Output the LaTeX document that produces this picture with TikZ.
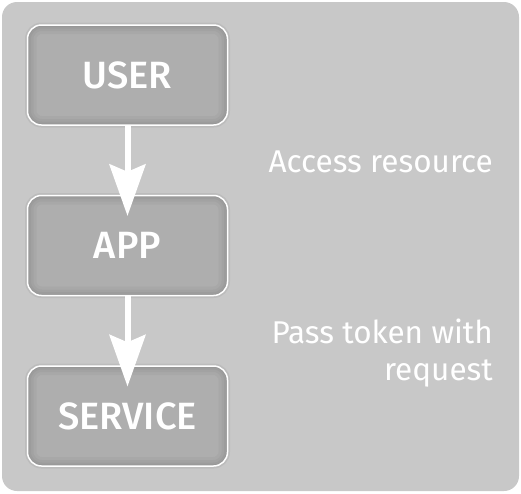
\documentclass[tikz,border=0pt]{standalone}
\usepackage{fontspec}
\setmainfont{Fira Sans}[BoldFont=* Medium]
\usetikzlibrary{arrows.meta}
\definecolor{bg}{HTML}{C8C8C8}
\definecolor{boxfill}{HTML}{AEAEAE}
\tikzset{
  box/.style={draw=white, line width=1.5pt, fill=boxfill, rounded corners=14pt,
    minimum width=200pt, minimum height=100pt, inner sep=0pt, text=white,
    font=\bfseries\fontsize{38}{42}\selectfont,
    preaction={draw=black, draw opacity=0.06, line width=5pt},
    path picture={
      \foreach \w/\o in {18pt/0.03,12pt/0.03,7pt/0.035,3pt/0.04}{
        \draw[line width=\w, black, draw opacity=\o, rounded corners=14pt]
          (path picture bounding box.south west) rectangle (path picture bounding box.north east);
      }
    }},
  arr/.style={draw=white, line width=6pt,
    -{Stealth[length=52pt, width=37pt, inset=8pt, line width=0pt]}, shorten >=-21pt},
  lbl/.style={text=white, inner sep=0pt, font=\fontsize{31.5}{37}\selectfont}
}
\begin{document}
\begin{tikzpicture}[x=1pt,y=-1pt]
\path[use as bounding box] (0,0) rectangle (521,493);
\fill[bg, rounded corners=15pt] (2,2) rectangle (519,491);
\node[box] (user) at (127.5,75) {USER};
\node[box] (app) at (127.5,245.5) {APP};
\node[box] (service) at (127.5,416) {SERVICE};
\draw[arr] (user) -- (app);
\draw[arr] (app) -- (service);
\node[lbl, anchor=base east] (l1) at (493,172) {Access resource};
\node[lbl, anchor=base east, align=right] (l2) at (493,380) {Pass token with\\request};
\end{tikzpicture}
\end{document}
